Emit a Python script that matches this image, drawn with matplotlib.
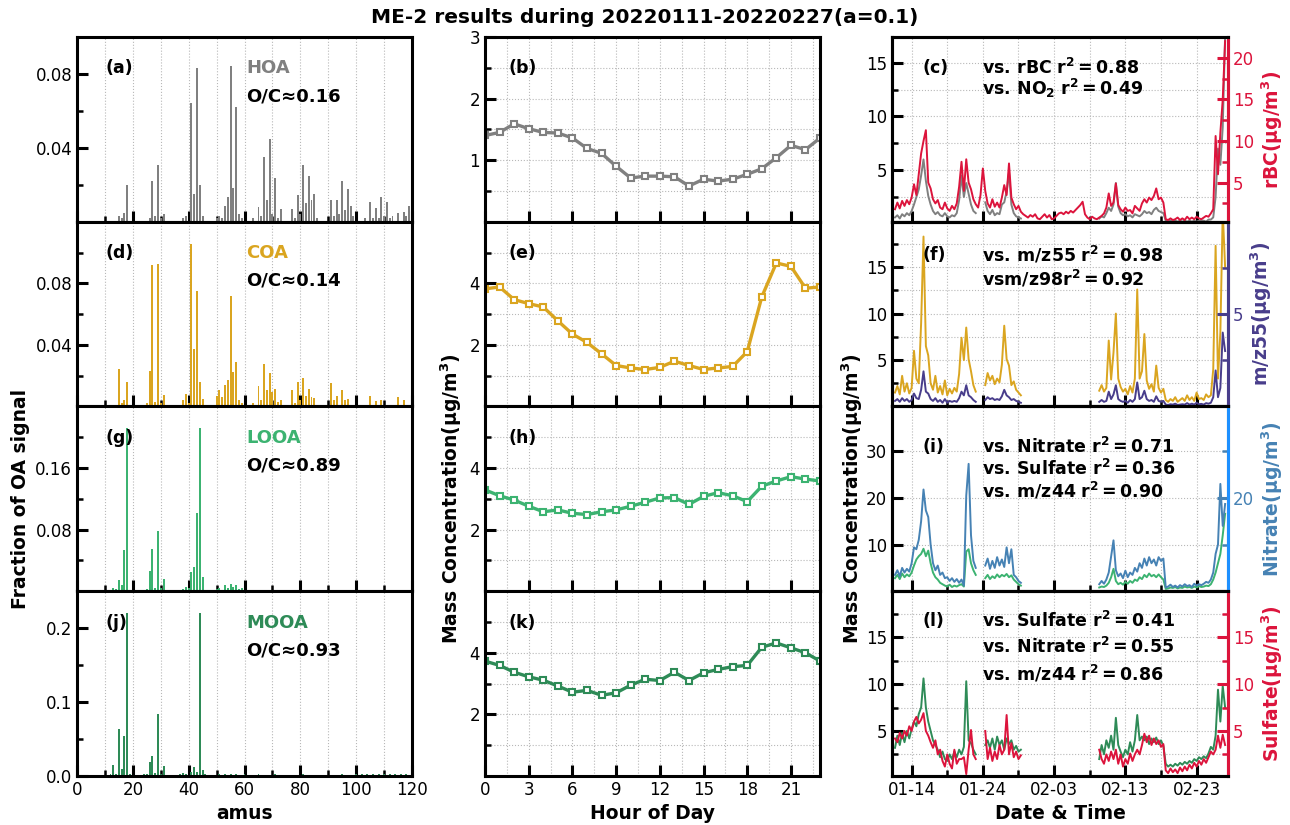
import numpy as np
import pandas as pd
import matplotlib
matplotlib.use("Agg")
import matplotlib.pyplot as plt
import matplotlib.dates as mdates
from matplotlib.ticker import MultipleLocator

nan = np.nan

# ---- mass spectra (m/z, fraction of OA signal) ----
hoa_mz = [15, 16, 17, 18, 26, 27, 28, 29, 30, 31, 38, 39, 41, 42, 43, 44, 45,
          50, 51, 52, 53, 54, 55, 56, 57, 58, 59, 63, 65, 66, 67, 68, 69, 70, 71, 72, 73,
          77, 78, 79, 80, 81, 82, 83, 84, 85, 86, 91, 92, 93, 94, 95, 96, 97, 98, 99,
          103, 105, 106, 107, 108, 109, 110, 111, 112, 113, 115, 117, 118, 119, 120]
hoa_frac = [0.003, 0.002, 0.0045, 0.0196, 0.002, 0.022, 0.003, 0.0305, 0.002, 0.004, 0.002, 0.003,
            0.064, 0.015, 0.083, 0.0196, 0.003,
            0.002, 0.003, 0.002, 0.0087, 0.0136, 0.0845, 0.0184, 0.062, 0.004, 0.002,
            0.002, 0.0078, 0.003, 0.035, 0.012, 0.0447, 0.004, 0.0238, 0.002, 0.007,
            0.007, 0.002, 0.0147, 0.004, 0.0305, 0.010, 0.025, 0.012, 0.015, 0.002,
            0.0115, 0.003, 0.0115, 0.004, 0.022, 0.0065, 0.0175, 0.0084, 0.003,
            0.002, 0.0105, 0.002, 0.0075, 0.002, 0.0133, 0.003, 0.0105, 0.002, 0.003,
            0.0047, 0.005, 0.003, 0.0087, 0.006]

coa_mz = [15, 16, 17, 18, 25, 26, 27, 28, 29, 30, 31, 38, 39, 40, 41, 42, 43, 44, 45,
          50, 51, 52, 53, 54, 55, 56, 57, 58, 59, 63, 65, 66, 67, 68, 69, 70, 71, 72, 73,
          77, 78, 79, 80, 81, 82, 83, 84, 85, 91, 92, 93, 95, 96, 97, 105, 107, 109, 115, 117]
coa_frac = [0.0244, 0.002, 0.004, 0.0158, 0.002, 0.0233, 0.0917, 0.003, 0.0928, 0.002, 0.0077,
            0.004, 0.0083, 0.002, 0.1057, 0.0376, 0.0747, 0.0158, 0.005,
            0.0068, 0.0105, 0.006, 0.014, 0.017, 0.0719, 0.0227, 0.0287, 0.004, 0.002,
            0.002, 0.013, 0.004, 0.0276, 0.011, 0.0218, 0.0094, 0.0115, 0.003, 0.004,
            0.0105, 0.002, 0.0158, 0.004, 0.0184, 0.007, 0.0115, 0.006, 0.0055,
            0.0154, 0.004, 0.007, 0.0105, 0.004, 0.005, 0.0067, 0.0034, 0.004, 0.0062, 0.004]

looa_mz = [12, 13, 14, 15, 16, 17, 18, 19, 24, 25, 26, 27, 28, 29, 30, 31, 37, 38, 39, 40,
           41, 42, 43, 44, 45, 46, 50, 51, 53, 54, 55, 56, 57, 58, 59, 60, 65, 67, 69, 71]
looa_frac = [0.002, 0.004, 0.003, 0.0147, 0.008, 0.053, 0.2115, 0.002, 0.002, 0.003, 0.026, 0.055,
             0.004, 0.0787, 0.004, 0.016, 0.002, 0.003, 0.006, 0.004,
             0.0246, 0.032, 0.1016, 0.2115, 0.018, 0.002, 0.003, 0.004, 0.008, 0.004, 0.009,
             0.005, 0.008, 0.003, 0.004, 0.002, 0.001, 0.002, 0.002, 0.001]

mooa_mz = [12, 13, 14, 15, 16, 17, 18, 19, 24, 25, 26, 27, 28, 29, 30, 31, 37, 38, 39, 41, 42,
           43, 44, 45, 46, 51, 53, 55, 57, 60, 65, 69, 71, 77, 81, 91, 95, 100, 102, 104, 106,
           108, 110, 112, 114, 116, 118, 120]
mooa_frac = [0.002, 0.0147, 0.003, 0.064, 0.009, 0.0547, 0.22, 0.002, 0.002, 0.003, 0.019, 0.027,
             0.004, 0.0836, 0.003, 0.0138, 0.002, 0.004, 0.003, 0.006, 0.0124,
             0.006, 0.22, 0.0084, 0.002, 0.003, 0.002, 0.003, 0.002, 0.002, 0.002, 0.001, 0.002,
             0.001, 0.002, 0.001, 0.002, 0.002, 0.003, 0.002, 0.003,
             0.002, 0.003, 0.002, 0.003, 0.002, 0.003, 0.003]

# ---- diurnal cycles ----
hours = list(range(24))
hoa_diurnal = [1.40, 1.45, 1.59, 1.51, 1.45, 1.44, 1.36, 1.19, 1.11, 0.90, 0.71, 0.74,
               0.74, 0.73, 0.58, 0.69, 0.66, 0.69, 0.77, 0.86, 1.04, 1.24, 1.17, 1.36]
coa_diurnal = [3.82, 3.88, 3.47, 3.34, 3.23, 2.78, 2.35, 2.08, 1.71, 1.33, 1.25, 1.20,
               1.27, 1.47, 1.33, 1.20, 1.25, 1.30, 1.78, 3.56, 4.66, 4.55, 3.84, 3.88]
looa_diurnal = [3.29, 3.10, 2.96, 2.76, 2.58, 2.64, 2.53, 2.49, 2.58, 2.64, 2.76, 2.89,
                3.03, 3.04, 2.82, 3.08, 3.20, 3.10, 2.91, 3.41, 3.58, 3.72, 3.64, 3.58]
mooa_diurnal = [3.73, 3.59, 3.37, 3.22, 3.11, 2.92, 2.72, 2.78, 2.62, 2.70, 2.95, 3.14,
                3.10, 3.37, 3.10, 3.35, 3.46, 3.55, 3.59, 4.18, 4.32, 4.16, 4.00, 3.73]

# ---- time series, every 8 h from 2022-01-11 16:00 (ME-2 gap 01-29 .. 02-09) ----
hoa_ts = [0.6,
          0.8, 0.5, 0.9, 0.7, 1.0, 0.8, 1.2, 1.8, 2.5, 3.2, 4.5, 6.0,
          4.0, 2.6, 1.8, 1.2, 0.9, 1.1, 0.8, 0.7, 1.0, 0.7, 0.6, 0.8,
          0.7, 1.0, 2.2, 4.5, 2.5, 3.8, 2.8, 1.8, 1.2, 1.0, nan, nan,
          nan, 2.0, 1.2, 0.9, 1.3, 0.8, 1.0, 0.9, 1.8, 2.0, 3.0, 4.8,
          1.8, 1.0, 0.7, 0.6, 0.5] + [nan] * 32 + [
          0.5, 0.7, 0.6, 1.0, 1.5, 1.2, 1.8, 3.8, 1.6, 1.0, 0.8,
          0.9, 0.7, 0.8, 0.6, 0.9, 0.8, 0.7, 0.9, 1.2, 1.0, 1.1, 0.9,
          1.3, 1.5, 1.2, 1.1, 1.0, 0.3, 0.2, 0.3, 0.2, 0.3, 0.2, 0.3,
          0.2, 0.3, 0.2, 0.3, 0.2, 0.3, 0.2, 0.3, 0.3, 0.3, 0.2, 0.4,
          0.4, 0.6, 2.5, 7.0, 5.5, 9.0, 17.5]
rbc_ts = [1.8,
          2.6, 1.9, 2.8, 2.2, 2.9, 2.4, 3.2, 4.8, 3.5, 6.0, 8.5, 10.0,
          11.3, 5.0, 4.3, 3.0, 2.5, 2.9, 2.0, 1.8, 2.6, 1.9, 1.6, 2.2,
          1.8, 2.5, 4.5, 7.5, 4.0, 7.8, 5.0, 4.2, 3.0, 2.4, 2.0, 3.5,
          6.7, 4.0, 2.5, 2.0, 3.0, 2.1, 2.6, 2.0, 3.2, 4.7, 3.5, 7.3,
          3.2, 2.4, 1.8, 2.2, 1.5, 1.2, 1.0, 0.8, 1.1, 0.9, 1.2, 0.7,
          0.6, 0.9, 1.2, 0.8, 1.1, 0.6, 0.7, 1.0, 1.3, 1.4, 1.2, 1.5,
          1.3, 1.6, 1.4, 1.7, 2.0, 2.3, 2.7, 1.2, 0.8, 0.6, 0.9, 0.7,
          0.6, 0.8, 1.0, 1.3, 2.0, 3.7, 2.2, 2.6, 4.9, 2.3, 1.8, 1.5,
          2.0, 1.6, 1.7, 1.3, 2.2, 1.9, 1.6, 2.5, 3.0, 2.6, 3.2, 2.9,
          3.4, 4.3, 3.0, 3.2, 2.6, 0.6, 0.5, 0.7, 0.5, 0.6, 0.8, 0.5,
          0.7, 0.5, 0.9, 0.6, 0.8, 0.6, 0.9, 0.7, 0.6, 0.8, 1.0, 0.9,
          1.3, 1.8, 10.6, 6.0, 11.0, 15.0, 22.0]
coa_ts = [1.5,
          2.2, 1.3, 3.3, 1.6, 2.5, 1.4, 2.0, 6.0, 3.0, 2.5, 9.0, 18.3,
          6.5, 5.5, 2.5, 1.8, 3.3, 1.5, 2.2, 1.3, 2.8, 1.2, 1.9, 1.4,
          2.0, 1.6, 3.5, 7.4, 5.0, 8.5, 5.1, 3.8, 2.3, 1.6, nan, nan,
          nan, 2.3, 3.6, 2.8, 3.3, 2.4, 3.0, 2.6, 4.5, 8.7, 5.1, 4.4,
          2.3, 2.7, 1.8, 1.5, 1.2] + [nan] * 32 + [
          1.7, 2.3, 1.6, 2.0, 7.1, 2.9, 5.8, 10.0, 3.0, 2.1, 1.6,
          1.9, 1.3, 2.2, 1.5, 3.0, 12.6, 3.0, 3.8, 7.8, 2.8, 1.9, 2.4,
          1.6, 4.4, 2.0, 1.5, 1.9, 0.7, 0.5, 0.8, 0.6, 1.0, 0.5, 0.7,
          0.9, 0.6, 1.2, 0.7, 1.0, 0.6, 1.5, 0.8, 0.9, 0.7, 1.3, 1.0,
          1.2, 4.0, 17.3, 3.0, 8.0, 21.0, 15.0]
mz55_ts = [0.3,
           0.4, 0.25, 0.45, 0.3, 0.4, 0.25, 0.35, 0.7, 0.45, 0.4, 0.9, 1.9,
           0.8, 0.7, 0.4, 0.3, 0.45, 0.25, 0.35, 0.2, 0.4, 0.2, 0.3, 0.25,
           0.3, 0.25, 0.45, 0.8, 0.6, 1.15, 0.6, 0.5, 0.35, 0.25, nan, nan,
           nan, 0.35, 0.5, 0.4, 0.45, 0.35, 0.4, 0.35, 0.55, 0.9, 0.6, 0.5,
           0.35, 0.4, 0.3, 0.25, 0.2] + [nan] * 32 + [
           0.25, 0.35, 0.25, 0.3, 0.8, 0.4, 0.65, 1.15, 0.4, 0.3, 0.25,
           0.3, 0.2, 0.35, 0.25, 0.4, 1.3, 0.4, 0.5, 0.85, 0.4, 0.3, 0.35,
           0.25, 0.55, 0.3, 0.25, 0.3, 0.1, 0.08, 0.12, 0.1, 0.15, 0.08, 0.1,
           0.12, 0.1, 0.18, 0.1, 0.15, 0.1, 0.2, 0.12, 0.14, 0.1, 0.18, 0.15,
           0.2, 0.5, 1.95, 0.5, 1.0, 4.0, 3.0]
looa_ts = [2.8,
           3.5, 2.6, 3.8, 3.0, 3.6, 3.2, 4.0, 5.5, 6.8, 7.5, 8.0, 9.1,
           7.5, 8.7, 6.0, 4.0, 3.0, 2.5, 1.8, 1.5, 1.2, 1.0, 1.4, 0.9,
           1.2, 1.0, 1.3, 1.5, 1.0, 8.5, 9.0, 6.0, 4.5, 3.5, nan, nan,
           nan, 2.8, 3.5, 2.6, 3.2, 2.8, 3.6, 3.0, 3.5, 3.2, 3.7, 3.0,
           3.4, 2.5, 2.0, 1.5, 1.2] + [nan] * 32 + [
           0.8, 1.0, 0.9, 1.2, 1.8, 3.0, 4.8, 2.2, 1.5, 1.8, 1.4,
           2.0, 1.6, 2.2, 1.8, 2.5, 2.2, 3.0, 2.6, 3.5, 3.0, 3.8, 3.2,
           3.5, 3.0, 3.6, 3.0, 2.5, 0.5, 0.6, 0.8, 0.7, 0.9, 0.6, 0.8,
           0.7, 1.0, 0.8, 0.9, 0.7, 1.0, 0.8, 1.1, 0.9, 1.0, 1.2, 1.1,
           1.5, 2.5, 4.0, 6.0, 8.0, 12.0, 16.6]
nitrate_ts = [3.5,
              4.5, 3.2, 5.0, 4.0, 4.8, 4.2, 6.0, 9.4, 9.0, 11.0, 15.0, 21.8,
              17.3, 15.9, 10.0, 6.0, 4.5, 5.5, 3.5, 4.0, 2.8, 3.0, 2.2, 2.8,
              2.0, 2.6, 1.8, 2.5, 1.2, 20.5, 27.3, 12.0, 6.5, 5.0, nan, nan,
              nan, 5.5, 7.0, 4.8, 6.5, 5.0, 7.3, 5.5, 6.8, 5.2, 9.4, 6.0,
              9.0, 3.5, 3.0, 2.2, 1.8] + [nan] * 32 + [
              1.5, 2.2, 1.6, 2.5, 4.0, 7.5, 10.9, 4.5, 3.2, 3.8, 2.8,
              4.4, 3.0, 4.0, 3.5, 5.0, 4.2, 6.0, 5.0, 7.0, 5.5, 7.3, 6.0,
              6.8, 5.5, 7.3, 6.5, 7.0, 0.8, 1.0, 1.4, 0.9, 1.2, 0.8, 1.3,
              1.0, 1.5, 1.1, 1.3, 0.9, 1.6, 1.2, 1.5, 1.3, 1.6, 2.0, 1.8,
              2.5, 4.0, 8.0, 10.0, 23.0, 14.0, 18.7]
mooa_ts = [3.2,
           4.5, 3.5, 4.8, 3.8, 5.0, 4.2, 5.2, 6.0, 5.5, 6.8, 7.5, 10.6,
           7.5, 6.0, 5.0, 4.0, 3.5, 3.0, 2.2, 2.8, 2.0, 1.8, 2.5, 2.0,
           2.8, 2.2, 3.0, 2.5, 3.3, 10.3, 4.0, 3.7, 3.0, 2.5, nan, nan,
           nan, 3.5, 4.0, 3.2, 4.2, 3.0, 4.4, 3.5, 4.0, 3.0, 4.2, 3.6,
           4.0, 3.0, 3.4, 2.8, 3.0] + [nan] * 32 + [
           2.0, 3.5, 2.5, 4.0, 3.2, 4.5, 3.0, 6.4, 3.5, 2.8, 2.2,
           3.0, 2.5, 3.8, 2.8, 4.0, 6.7, 4.0, 4.4, 4.0, 4.4, 3.6, 4.2,
           3.8, 4.3, 3.6, 4.0, 3.4, 1.5, 1.2, 1.4, 1.2, 1.5, 1.3, 1.6,
           1.4, 1.7, 1.5, 1.8, 1.6, 2.0, 1.8, 2.2, 2.0, 2.3, 2.1, 2.6,
           3.3, 3.0, 4.5, 9.4, 6.0, 9.8, 7.5]
sulfate_ts = [4.2,
              3.8, 4.8, 4.2, 5.0, 4.5, 5.5, 5.0, 6.0, 6.5, 5.8, 6.2, 6.9,
              5.0, 4.5, 3.8, 3.2, 4.0, 2.5, 3.0, 1.8, 1.2, 2.5, 1.5, 1.0,
              3.0, 1.5, 2.0, 2.0, 2.2, 0.4, 3.0, 5.1, 2.5, 2.0, nan, nan,
              nan, 5.0, 2.0, 3.2, 1.8, 2.8, 2.0, 3.5, 2.5, 3.0, 6.7, 2.5,
              3.7, 2.2, 2.8, 2.0, 2.4] + [nan] * 32 + [
              3.0, 2.0, 1.5, 2.5, 1.8, 2.8, 2.0, 3.0, 1.5, 2.5, 1.2,
              2.0, 1.5, 2.6, 1.8, 2.5, 3.0, 2.5, 3.5, 4.7, 3.8, 4.5, 3.5,
              4.2, 3.6, 4.0, 3.3, 3.6, 0.8, 0.5, 1.0, 0.6, 0.9, 0.5, 1.1,
              0.7, 1.2, 0.8, 1.4, 1.0, 1.6, 1.2, 1.8, 1.4, 2.0, 1.6, 2.2,
              2.8, 2.5, 3.0, 4.5, 3.2, 4.6, 3.5]

times = pd.date_range("2022-01-11 16:00", periods=len(rbc_ts), freq="8h")

factor_names = ["HOA", "COA", "LOOA", "MOOA"]
factor_colors = ["gray", "goldenrod", "mediumseagreen", "seagreen"]
oc_ratio = ["0.16", "0.14", "0.89", "0.93"]

plt.rcParams["font.family"] = "DejaVu Sans"
plt.rcParams["axes.linewidth"] = 2.2
plt.rcParams["mathtext.fontset"] = "dejavusans"

fig = plt.figure(figsize=(12.9, 8.25), dpi=100)
fig.text(0.5, 0.979, "ME-2 results during 20220111-20220227(a=0.1)",
         ha="center", va="center", fontsize=14.5, fontweight="bold")

col_left = [0.0597, 0.376, 0.6915]
col_w = [0.2597, 0.2597, 0.2605]
row_h = 0.22394
top = 0.9552
axes = [[fig.add_axes([col_left[c], top - (r + 1) * row_h, col_w[c], row_h])
         for c in range(3)] for r in range(4)]

GRID = dict(ls=":", lw=0.8, color="#b8b8b8")
BOLD = dict(fontsize=13.5, fontweight="bold")


def style_ticks(ax):
    ax.tick_params(axis="both", which="both", direction="in", labelsize=12)
    ax.tick_params(which="major", length=8, width=2.2)
    ax.tick_params(which="minor", length=4, width=1.8)


# ---- left column: profiles ----
spec_mz = [hoa_mz, coa_mz, looa_mz, mooa_mz]
spec_frac = [hoa_frac, coa_frac, looa_frac, mooa_frac]
spec_top = [0.1, 0.12, 0.24, 0.25]
spec_major = [[0.04, 0.08], [0.04, 0.08], [0.08, 0.16], [0.0, 0.1, 0.2]]
spec_minor = [[0.02, 0.06, 0.10], [0.02, 0.06, 0.10], [0.04, 0.12, 0.20], [0.05, 0.15]]
panel_l = ["(a)", "(d)", "(g)", "(j)"]
for i in range(4):
    ax = axes[i][0]
    ax.bar(spec_mz[i], spec_frac[i], width=0.7, color=factor_colors[i], zorder=2)
    ax.set_xlim(0, 120)
    ax.set_ylim(0, spec_top[i])
    ax.xaxis.set_major_locator(MultipleLocator(20))
    ax.xaxis.set_minor_locator(MultipleLocator(10))
    ax.set_yticks(spec_major[i])
    ax.set_yticks(spec_minor[i], minor=True)
    ax.grid(axis="x", which="both", **GRID)
    ax.set_axisbelow(True)
    style_ticks(ax)
    if i < 3:
        ax.tick_params(labelbottom=False)
    ax.text(0.084, 0.83, panel_l[i], transform=ax.transAxes, fontsize=12.5,
            fontweight="bold", va="center")
    ax.text(0.505, 0.83, factor_names[i], transform=ax.transAxes, fontsize=13,
            fontweight="bold", color=factor_colors[i], va="center")
    ax.text(0.505, 0.68, "O/C≈" + oc_ratio[i], transform=ax.transAxes, fontsize=13,
            fontweight="bold", va="center")
axes[2][0].set_ylabel("Fraction of OA signal", **BOLD)
axes[3][0].set_xlabel("amus", **BOLD)

# ---- middle column: diurnal ----
diurnals = [hoa_diurnal, coa_diurnal, looa_diurnal, mooa_diurnal]
panel_m = ["(b)", "(e)", "(h)", "(k)"]
for i in range(4):
    ax = axes[i][1]
    ax.plot(hours, diurnals[i], "-s", color=factor_colors[i], lw=2.4, ms=4.5,
            mfc="white", mew=1.5)
    ax.set_xlim(0, 23)
    ax.set_xticks(range(0, 22, 3))
    ax.xaxis.set_minor_locator(MultipleLocator(1.5))
    if i == 0:
        ax.set_ylim(0, 3)
        ax.set_yticks([1, 2, 3])
        ax.set_yticks([0.5, 1.5, 2.5], minor=True)
    else:
        ax.set_ylim(0, 6)
        ax.set_yticks([2, 4])
        ax.set_yticks([1, 3, 5], minor=True)
    ax.grid(which="both", **GRID)
    ax.set_axisbelow(True)
    style_ticks(ax)
    ax.tick_params(axis="x", which="minor", length=0)
    if i < 3:
        ax.tick_params(labelbottom=False)
    ax.text(0.069, 0.83, panel_m[i], transform=ax.transAxes, fontsize=12.5,
            fontweight="bold", va="center")
axes[2][1].set_ylabel("Mass Concentration(μg/m$^\\mathbf{3}$)", **BOLD)
axes[3][1].set_xlabel("Hour of Day", **BOLD)

# ---- right column: time series ----
ts_factor = [hoa_ts, coa_ts, looa_ts, mooa_ts]
ts_ref = [rbc_ts, mz55_ts, nitrate_ts, sulfate_ts]
ref_colors = ["crimson", "darkslateblue", "steelblue", "crimson"]
spine_colors = ["crimson", "darkslateblue", "dodgerblue", "crimson"]
ref_labels = ["rBC", "m/z55", "Nitrate", "Sulfate"]
left_lim = [(0.2, 17.4), (0, 19.9), (0, 39.6), (0.2, 19.9)]
right_lim = [(0.3, 22.5), (0, 10), (0, 39.6), (0.2, 19.9)]
left_major = [[5, 10, 15], [5, 10, 15], [10, 20, 30], [5, 10, 15]]
left_minor = [[2.5, 7.5, 12.5], [2.5, 7.5, 12.5, 17.5], [], [2.5, 7.5, 12.5, 17.5]]
right_major = [[5, 10, 15, 20], [5], [20], [5, 10, 15]]
right_minor = [[2.5, 7.5, 12.5, 17.5], [2.5, 7.5], [10, 30], [2.5, 7.5, 12.5, 17.5]]
panel_r = ["(c)", "(f)", "(i)", "(l)"]
notes = [
    [r"$\mathbf{vs.\,rBC\ r^2 = 0.88}$", r"$\mathbf{vs.\,NO_2\ r^2 = 0.49}$"],
    [r"$\mathbf{vs.\,m/z55\ r^2 = 0.98}$", r"$\mathbf{vsm/z98r^2 = 0.92}$"],
    [r"$\mathbf{vs.\,Nitrate\ r^2 = 0.71}$", r"$\mathbf{vs.\,Sulfate\ r^2 = 0.36}$",
     r"$\mathbf{vs.\,m/z44\ r^2 = 0.90}$"],
    [r"$\mathbf{vs.\,Sulfate\ r^2 = 0.41}$", r"$\mathbf{vs.\,Nitrate\ r^2 = 0.55}$",
     r"$\mathbf{vs.\,m/z44\ r^2 = 0.86}$"],
]
note_y = [[0.83, 0.72], [0.82, 0.69], [0.78, 0.66, 0.54], [0.84, 0.70, 0.55]]

major_days = mdates.date2num(pd.date_range("2022-01-14", "2022-02-23", freq="10D").to_pydatetime())
minor_days = mdates.date2num(pd.date_range("2022-01-19", "2022-02-26", freq="10D").to_pydatetime())
x0 = mdates.date2num(pd.Timestamp("2022-01-11 06:00").to_pydatetime())
x1 = mdates.date2num(pd.Timestamp("2022-02-27 10:00").to_pydatetime())

for i in range(4):
    ax = axes[i][2]
    ax.plot(times, ts_factor[i], color=factor_colors[i], lw=1.4)
    ax2 = ax.twinx()
    ax2.plot(times, ts_ref[i], color=ref_colors[i], lw=1.4)
    ax.set_xlim(x0, x1)
    ax.set_xticks(major_days)
    ax.set_xticks(minor_days, minor=True)
    ax.xaxis.set_major_formatter(mdates.DateFormatter("%m-%d"))
    ax.set_ylim(*left_lim[i])
    ax.set_yticks(left_major[i])
    ax.set_yticks(left_minor[i], minor=True)
    ax.grid(which="both", **GRID)
    ax.set_axisbelow(True)
    style_ticks(ax)
    if i < 3:
        ax.tick_params(labelbottom=False)
    ax2.set_ylim(*right_lim[i])
    ax2.set_yticks(right_major[i])
    ax2.set_yticks(right_minor[i], minor=True)
    style_ticks(ax2)
    ax2.tick_params(axis="y", which="both", colors=ref_colors[i])
    ax2.spines["right"].set_color(spine_colors[i])
    ax2.set_ylabel(ref_labels[i] + "(μg/m$^\\mathbf{3}$)", color=ref_colors[i], **BOLD)
    ax.text(0.09, note_y[i][0], panel_r[i], transform=ax.transAxes, fontsize=12.5,
            fontweight="bold", va="center")
    for txt, yy in zip(notes[i], note_y[i]):
        ax2.text(0.268, yy, txt, transform=ax.transAxes, fontsize=12.5, va="center")
axes[2][2].set_ylabel("Mass Concentration(μg/m$^\\mathbf{3}$)", labelpad=1, **BOLD)
axes[3][2].set_xlabel("Date & Time", **BOLD)

fig.savefig("out.png", dpi=100)
